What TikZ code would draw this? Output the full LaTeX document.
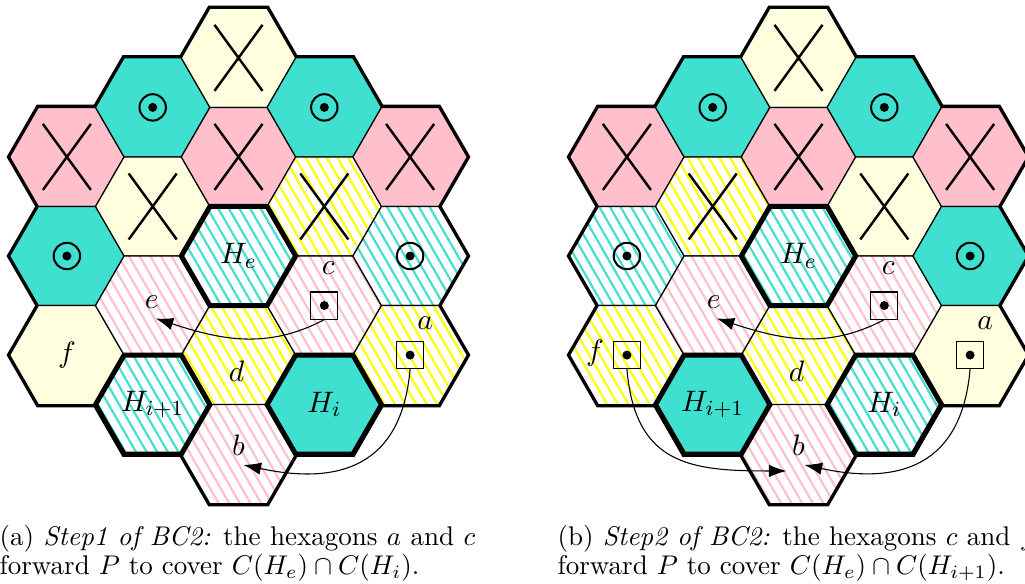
\documentclass[tikz,border=0pt]{standalone}
\usetikzlibrary{patterns.meta,arrows.meta,calc}

\definecolor{hexteal}{HTML}{40E0D0}
\definecolor{hexpink}{HTML}{FFC0CB}
\definecolor{hexcream}{HTML}{FFFFE0}
\definecolor{hexyellow}{HTML}{FFFF00}

\def\hexR{57.2}

\tikzset{
  rim/.style={draw=black, line width=2pt, line join=miter},
  edge/.style={draw=black, line width=0.45pt},
  tealcell/.style={edge, fill=hexteal},
  pinkcell/.style={edge, fill=hexpink},
  creamcell/.style={edge, fill=hexcream},
  hatched/.style={edge, preaction={fill=white},
    pattern={Lines[angle=-60,distance=3.4pt,line width=0.8pt]}, pattern color=#1},
  heavy/.style={draw=black, line width=1.85pt, line join=miter},
  cross/.style={draw=black, line width=0.9pt},
  ring/.style={draw=black, line width=0.75pt},
  boxdot/.style={draw=black, line width=0.4pt, minimum size=10pt, inner sep=0pt},
  lbl/.style={font=\fontsize{11}{13}\selectfont},
  captext/.style={font=\fontsize{10}{12}\selectfont, inner sep=0pt, anchor=base west},
  link/.style={-{Latex[length=6.5pt,width=4.6pt]}, line width=0.4pt},
}

% one hexagon (flat top) round a named centre
\newcommand\hexcell[2]{\path[#2,shift={(#1)}] (0:\hexR) -- (60:\hexR) -- (120:\hexR)
  -- (180:\hexR) -- (240:\hexR) -- (300:\hexR) -- cycle;}
% the crossed-out mark
\newcommand\crossat[1]{\draw[cross] ($(#1)+(-24,33)$) -- ($(#1)+(24,-33)$)
  ($(#1)+(-24,-33)$) -- ($(#1)+(24,33)$);}
% the circled dot
\newcommand\odotat[1]{\draw[ring] (#1) circle[radius=13.2];
  \fill (#1) circle[radius=4.5];}

\begin{document}
\begin{tikzpicture}[x=0.37pt,y=0.37pt]
\useasboundingbox (0,0) rectangle (1025,-584);

% centres of the 19 cells of each board (columns left to right, cells top to bottom)
\foreach \g/\gx in {L/238.5, R/798.5}{
  \foreach \n/\q/\k in {1/-2/-2, 2/-2/0, 3/-2/2,
                        4/-1/-3, 5/-1/-1, 6/-1/1, 7/-1/3,
                        8/0/-4, 9/0/-2, 10/0/0, 11/0/2, 12/0/4,
                        13/1/-3, 14/1/-1, 15/1/1, 16/1/3,
                        17/2/-2, 18/2/0, 19/2/2}{
    \coordinate (\g\n) at ({\gx+85.8*\q},{-256-49.535*\k});
  }
}

% heavy outer rim: stroked first, the fills then hide its inner half
\foreach \g in {L,R}{
  \foreach \n in {1,...,19}{\hexcell{\g\n}{rim}}
}

% ---------- board (a): Step 1 ----------
\hexcell{L1}{pinkcell}
\hexcell{L2}{tealcell}
\hexcell{L3}{creamcell}
\hexcell{L4}{tealcell}
\hexcell{L5}{creamcell}
\hexcell{L6}{hatched=hexpink}
\hexcell{L7}{hatched=hexteal}
\hexcell{L8}{creamcell}
\hexcell{L9}{pinkcell}
\hexcell{L10}{hatched=hexteal}
\hexcell{L11}{hatched=hexyellow}
\hexcell{L12}{hatched=hexpink}
\hexcell{L13}{tealcell}
\hexcell{L14}{hatched=hexyellow}
\hexcell{L15}{hatched=hexpink}
\hexcell{L16}{tealcell}
\hexcell{L17}{pinkcell}
\hexcell{L18}{hatched=hexteal}
\hexcell{L19}{hatched=hexyellow}

% ---------- board (b): Step 2 ----------
\hexcell{R1}{pinkcell}
\hexcell{R2}{hatched=hexteal}
\hexcell{R3}{hatched=hexyellow}
\hexcell{R4}{tealcell}
\hexcell{R5}{hatched=hexyellow}
\hexcell{R6}{hatched=hexpink}
\hexcell{R7}{tealcell}
\hexcell{R8}{creamcell}
\hexcell{R9}{pinkcell}
\hexcell{R10}{hatched=hexteal}
\hexcell{R11}{hatched=hexyellow}
\hexcell{R12}{hatched=hexpink}
\hexcell{R13}{tealcell}
\hexcell{R14}{creamcell}
\hexcell{R15}{hatched=hexpink}
\hexcell{R16}{hatched=hexteal}
\hexcell{R17}{pinkcell}
\hexcell{R18}{tealcell}
\hexcell{R19}{creamcell}

% crossed-out cells
\foreach \c in {L1,L5,L8,L9,L14,L17,R1,R5,R8,R9,R14,R17}{\crossat{\c}}
% circled dots
\foreach \c in {L2,L4,L13,L18,R2,R4,R13,R18}{\odotat{\c}}

% boxed dots (sources of forwarding)
\node[boxdot] (Lcbox) at (L15) {};
\node[boxdot] (Labox) at (L19) {};
\node[boxdot] (Rcbox) at (R15) {};
\node[boxdot] (Rfbox) at (R3) {};
\node[boxdot] (Rabox) at (R19) {};
\foreach \b in {Lcbox,Labox,Rcbox,Rfbox,Rabox}{\fill (\b.center) circle[radius=4.5];}

% heavy outlines of H_e, H_i, H_{i+1}
\foreach \c in {L7,L10,L16,R7,R10,R16}{\hexcell{\c}{heavy}}

% cell labels, board (a)
\node[lbl] (LHe) at (L10) {$H_e$};
\node[lbl] (LHi) at (L16) {$H_i$};
\node[lbl] (LHj) at (L7) {$H_{i+1}$};
\node[lbl] (Ld) at ($(L11)+(-2,-16)$) {$d$};
\node[lbl] (Lb) at ($(L12)+(0,9)$) {$b$};
\node[lbl] (Le) at ($(L6)+(-1,3)$) {$e$};
\node[lbl] (Lf) at (L3) {$f$};
\node[lbl] (Lc) at ($(L15)+(4,37)$) {$c$};
\node[lbl] (La) at ($(L19)+(15,32)$) {$a$};

% cell labels, board (b)
\node[lbl] (RHe) at (R10) {$H_e$};
\node[lbl] (RHi) at (R16) {$H_i$};
\node[lbl] (RHj) at (R7) {$H_{i+1}$};
\node[lbl] (Rd) at ($(R11)+(-2,-16)$) {$d$};
\node[lbl] (Rb) at ($(R12)+(0,9)$) {$b$};
\node[lbl] (Re) at ($(R6)+(1,3)$) {$e$};
\node[lbl] (Rf) at ($(R3)+(-32,2)$) {$f$};
\node[lbl] (Rc) at ($(R15)+(4,37)$) {$c$};
\node[lbl] (Ra) at ($(R19)+(15,32)$) {$a$};

% forwarding arrows
\draw[link] (Lcbox.south) to[out=-152,in=-18] ($(Le.south)+(4,0)$);
\draw[link] (Labox.south) to[out=-95,in=-12,looseness=1.3] ($(Lb.south)+(5,0)$);
\draw[link] (Rcbox.south) to[out=-152,in=-18] ($(Re.south)+(3,0)$);
\draw[link] (Rfbox.south) to[out=-85,in=180,looseness=1.3] ($(Rb.south)+(-12,-6)$);
\draw[link] (Rabox.south) to[out=-95,in=-12,looseness=1.3] ($(Rb.south)+(6,0)$);

% captions
\node[captext] (capa1) at (-1,-545) {\makebox[176pt][s]{(a) \textit{Step1 of BC2:} the hexagons $a$ and $c$}};
\node[captext] (capa2) at (-1,-574) {forward $P$ to cover $C(H_e)\cap C(H_i)$.};
\node[captext] (capb1) at (557,-545) {\makebox[177pt][s]{(b) \textit{Step2 of BC2:} the hexagons $c$ and $f$}};
\node[captext] (capb2) at (557,-574) {forward $P$ to cover $C(H_e)\cap C(H_{i+1})$.};
\end{tikzpicture}
\end{document}
